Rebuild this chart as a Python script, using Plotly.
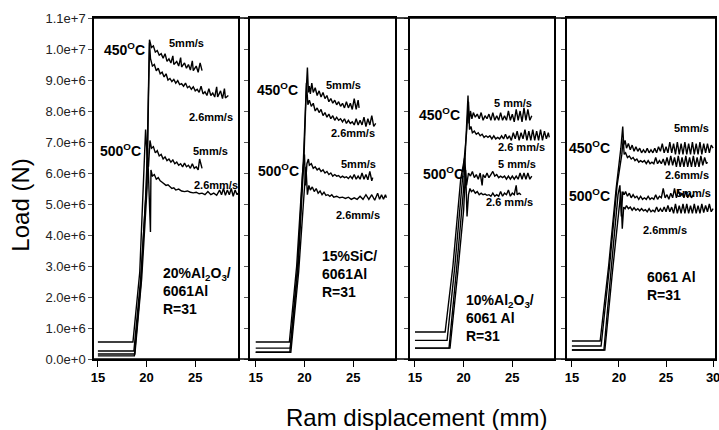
import plotly.graph_objects as go

# ---------------- data: (ram displacement mm, load MN) ----------------
# Panel 1: 20%Al2O3/6061Al
p1_450_5 = [(15,0.26),(18.7,0.26),(19.4,2.6),(20.0,5.6),(20.15,8.0),(20.3,10.3),(20.5,10.05),(20.7,10.1),(20.9,9.9),(21.1,9.95),(21.3,9.8),(21.5,9.85),(21.7,9.7),(21.9,9.85),(22.1,9.6),(22.3,9.68),(22.5,9.55),(22.7,9.78),(22.8,9.5),(23.1,9.6),(23.3,9.45),(23.5,9.72),(23.6,9.42),(23.9,9.55),(24.1,9.38),(24.3,9.5),(24.5,9.32),(24.7,9.62),(24.8,9.3),(25.1,9.45),(25.3,9.25),(25.5,9.55),(25.7,9.3)]
p1_450_26 = [(15,0.16),(18.8,0.16),(19.5,2.6),(20.05,5.5),(20.2,8.5),(20.3,10.2),(20.4,9.7),(20.6,9.45),(20.8,9.5),(21.0,9.3),(21.2,9.38),(21.4,9.2),(21.6,9.25),(21.8,9.1),(22.0,9.2),(22.2,9.0),(22.4,9.05),(22.6,8.95),(22.8,9.02),(23.0,8.9),(23.2,8.98),(23.4,8.85),(23.6,8.88),(23.8,8.8),(24.0,8.9),(24.2,8.75),(24.4,8.8),(24.6,8.7),(24.8,8.78),(25.0,8.65),(25.2,8.7),(25.4,8.6),(25.6,8.8),(25.8,8.55),(26.0,8.62),(26.2,8.5),(26.4,8.72),(26.6,8.5),(26.8,8.58),(27.0,8.45),(27.2,8.78),(27.3,8.45),(27.6,8.65),(27.8,8.4),(28.0,8.72),(28.1,8.42),(28.4,8.5)]
p1_500_5 = [(15,0.55),(18.6,0.55),(19.3,2.8),(19.75,6.0),(19.9,7.4),(20.05,6.6),(20.2,6.2),(20.35,7.05),(20.5,6.8),(20.7,6.85),(20.9,6.65),(21.1,6.72),(21.3,6.55),(21.5,6.6),(21.7,6.45),(21.9,6.52),(22.1,6.4),(22.3,6.45),(22.5,6.35),(22.7,6.42),(22.9,6.3),(23.1,6.35),(23.3,6.25),(23.5,6.3),(23.7,6.2),(23.9,6.32),(24.1,6.2),(24.3,6.25),(24.5,6.15),(24.7,6.3),(24.9,6.15),(25.1,6.2),(25.3,6.1),(25.45,6.45),(25.7,6.15)]
p1_500_26 = [(15,0.1),(18.75,0.1),(19.4,2.4),(19.9,5.2),(20.1,6.8),(20.25,5.0),(20.4,4.1),(20.45,6.1),(20.6,5.9),(20.8,5.95),(21.0,5.8),(21.2,5.85),(21.4,5.75),(21.6,5.7),(21.8,5.65),(22.0,5.6),(22.2,5.62),(22.4,5.55),(22.6,5.5),(22.8,5.52),(23.0,5.45),(23.3,5.48),(23.6,5.42),(23.9,5.4),(24.2,5.42),(24.5,5.38),(24.8,5.36),(25.1,5.38),(25.4,5.33),(25.7,5.35),(26.0,5.3),(26.3,5.4),(26.6,5.3),(26.9,5.35),(27.2,5.28),(27.5,5.45),(27.7,5.3),(27.9,5.5),(28.1,5.28),(28.3,5.45),(28.5,5.3),(28.7,5.5),(28.9,5.25),(29.1,5.45),(29.3,5.3),(29.4,5.35)]

# Panel 2: 15%SiC/6061Al
p2_450_5 = [(15,0.22),(18.5,0.22),(19.3,3.0),(19.9,6.5),(20.15,8.5),(20.3,9.4),(20.4,8.6),(20.5,8.8),(20.6,8.55),(20.75,8.9),(20.9,8.6),(21.1,8.75),(21.3,8.5),(21.5,8.65),(21.7,8.45),(21.9,8.6),(22.1,8.4),(22.3,8.5),(22.5,8.3),(22.7,8.4),(22.9,8.25),(23.1,8.35),(23.3,8.2),(23.5,8.3),(23.7,8.15),(23.9,8.25),(24.1,8.1),(24.3,8.3),(24.5,8.1),(24.7,8.25),(24.9,8.05),(25.1,8.4),(25.3,8.05),(25.5,8.35),(25.6,8.1)]
p2_450_26 = [(15,0.35),(18.55,0.35),(19.35,3.0),(19.95,6.5),(20.2,8.9),(20.35,8.2),(20.5,8.35),(20.7,8.15),(20.9,8.25),(21.1,8.0),(21.3,8.1),(21.5,7.95),(21.7,8.05),(21.9,7.85),(22.1,7.95),(22.3,7.8),(22.5,7.9),(22.7,7.75),(22.9,7.85),(23.1,7.7),(23.3,7.8),(23.5,7.7),(23.7,7.75),(23.9,7.65),(24.1,7.75),(24.3,7.6),(24.5,7.7),(24.7,7.6),(24.9,7.65),(25.1,7.55),(25.3,7.75),(25.5,7.55),(25.7,7.7),(25.9,7.55),(26.1,7.8),(26.3,7.5),(26.5,7.75),(26.7,7.55),(26.9,7.85),(27.1,7.5),(27.3,7.6)]
p2_500_5 = [(15,0.55),(18.45,0.55),(19.2,3.0),(19.8,6.0),(20.0,6.6),(20.1,5.6),(20.25,6.3),(20.4,6.45),(20.5,6.25),(20.7,6.3),(20.9,6.15),(21.1,6.2),(21.3,6.1),(21.5,6.15),(21.7,6.05),(21.9,6.1),(22.1,6.0),(22.3,6.05),(22.5,5.95),(22.7,6.0),(22.9,5.9),(23.1,5.95),(23.3,5.9),(23.5,5.92),(23.7,5.85),(23.9,5.9),(24.1,5.85),(24.3,5.88),(24.5,5.82),(24.7,5.9),(24.9,5.82),(25.1,5.95),(25.3,5.8),(25.5,5.9),(25.7,5.8),(25.9,6.0),(26.1,5.8),(26.3,5.95),(26.5,5.78),(26.7,6.05),(26.9,5.75),(27.0,5.85)]
p2_500_26 = [(15,0.22),(18.6,0.22),(19.4,2.8),(19.95,5.5),(20.15,6.2),(20.3,5.3),(20.45,5.6),(20.6,5.45),(20.8,5.55),(21.0,5.4),(21.2,5.5),(21.4,5.35),(21.6,5.42),(21.8,5.3),(22.0,5.38),(22.2,5.28),(22.4,5.3),(22.6,5.25),(22.8,5.3),(23.0,5.22),(23.3,5.25),(23.6,5.2),(23.9,5.22),(24.2,5.18),(24.5,5.22),(24.8,5.15),(25.1,5.2),(25.4,5.15),(25.7,5.25),(26.0,5.15),(26.3,5.3),(26.6,5.15),(26.9,5.3),(27.2,5.12),(27.5,5.35),(27.7,5.15),(27.9,5.3),(28.1,5.15),(28.3,5.3),(28.4,5.2)]

# Panel 3: 10%Al2O3/6061 Al
p3_450_5 = [(15,0.35),(18.5,0.35),(19.3,3.0),(20.0,5.5),(20.3,7.5),(20.45,8.5),(20.55,7.6),(20.7,8.0),(20.85,7.75),(21.0,7.95),(21.2,7.8),(21.4,7.9),(21.6,7.75),(21.8,7.95),(22.0,7.7),(22.2,7.85),(22.4,7.75),(22.6,7.9),(22.8,7.7),(23.0,7.95),(23.2,7.7),(23.4,7.85),(23.6,7.7),(23.8,7.95),(24.0,7.7),(24.2,7.85),(24.4,7.7),(24.6,8.0),(24.8,7.7),(25.0,7.9),(25.2,7.65),(25.4,8.05),(25.6,7.7),(25.8,8.0),(26.0,7.65),(26.2,8.1),(26.4,7.7),(26.6,8.05),(26.8,7.7),(27.0,7.85)]
p3_450_26 = [(15,0.6),(18.3,0.6),(19.1,3.0),(19.9,5.8),(20.3,7.3),(20.5,8.3),(20.6,7.4),(20.75,7.5),(20.9,7.3),(21.1,7.35),(21.3,7.25),(21.5,7.3),(21.7,7.2),(21.9,7.25),(22.1,7.15),(22.3,7.2),(22.5,7.15),(22.7,7.2),(22.9,7.1),(23.1,7.2),(23.3,7.1),(23.5,7.15),(23.7,7.1),(23.9,7.2),(24.1,7.1),(24.3,7.25),(24.5,7.1),(24.7,7.2),(24.9,7.05),(25.1,7.3),(25.3,7.1),(25.5,7.35),(25.7,7.05),(25.9,7.3),(26.1,7.1),(26.3,7.4),(26.5,7.05),(26.7,7.35),(26.9,7.05),(27.1,7.4),(27.3,7.05),(27.5,7.35),(27.7,7.05),(27.9,7.4),(28.1,7.05),(28.3,7.35),(28.5,7.1),(28.7,7.3),(28.8,7.15)]
p3_500_5 = [(15,0.87),(18.1,0.87),(18.9,3.0),(19.7,5.8),(20.1,6.5),(20.3,5.6),(20.5,6.0),(20.7,5.9),(20.9,6.05),(21.1,5.85),(21.3,5.95),(21.5,5.8),(21.7,6.0),(21.9,5.6),(22.0,5.95),(22.2,5.85),(22.4,6.0),(22.6,5.85),(22.8,5.95),(23.0,6.05),(23.2,5.9),(23.4,5.95),(23.6,5.85),(23.8,5.9),(24.0,5.85),(24.2,5.9),(24.4,5.8),(24.6,5.9),(24.8,5.8),(25.0,5.9),(25.2,5.8),(25.4,5.9),(25.6,5.8),(25.8,6.0),(26.0,5.8),(26.2,6.0),(26.4,5.8),(26.6,6.0),(26.8,5.8),(27.0,5.9)]
p3_500_26 = [(15,0.35),(18.6,0.35),(19.4,2.8),(20.0,4.8),(20.2,6.1),(20.35,4.6),(20.5,5.3),(20.65,5.5),(20.8,5.4),(21.0,5.45),(21.2,5.35),(21.4,5.4),(21.6,5.3),(21.8,5.35),(22.0,5.3),(22.2,5.32),(22.4,5.28),(22.6,5.3),(22.8,5.25),(23.0,5.35),(23.2,5.25),(23.4,5.3),(23.6,5.25),(23.8,5.4),(24.0,5.25),(24.2,5.35),(24.4,5.3),(24.6,5.45),(24.8,5.25),(25.0,5.35),(25.2,5.3),(25.4,5.6),(25.5,5.3),(25.7,5.35),(25.9,5.3)]

# Panel 4: 6061 Al
p4_450_5 = [(15,0.58),(18.0,0.58),(18.9,3.0),(19.7,5.5),(20.2,6.8),(20.4,7.5),(20.5,6.9),(20.65,7.05),(20.8,6.8),(21.0,6.95),(21.2,6.75),(21.4,6.9),(21.6,6.7),(21.8,6.85),(22.0,6.7),(22.2,6.8),(22.4,6.65),(22.6,6.75),(22.8,6.65),(23.0,6.8),(23.2,6.65),(23.4,6.75),(23.6,6.65),(23.8,6.8),(24.0,6.65),(24.2,6.85),(24.4,6.7),(24.6,6.95),(24.8,6.65),(25.0,6.85),(25.2,6.65),(25.4,7.0),(25.6,6.65),(25.8,6.95),(26.0,6.6),(26.2,7.0),(26.4,6.6),(26.6,6.95),(26.8,6.6),(27.0,7.0),(27.2,6.6),(27.4,6.95),(27.6,6.6),(27.8,7.0),(28.0,6.6),(28.2,6.95),(28.4,6.6),(28.6,7.0),(28.8,6.6),(29.0,6.95),(29.2,6.65),(29.4,6.95),(29.6,6.65),(29.8,6.9),(30.0,6.8)]
p4_450_26 = [(15,0.42),(18.1,0.42),(19.0,3.0),(19.8,5.6),(20.3,6.6),(20.45,7.1),(20.55,6.6),(20.7,6.65),(20.9,6.5),(21.1,6.55),(21.3,6.45),(21.5,6.5),(21.7,6.4),(21.9,6.45),(22.1,6.35),(22.3,6.4),(22.5,6.35),(22.7,6.4),(22.9,6.3),(23.1,6.4),(23.3,6.3),(23.5,6.35),(23.7,6.3),(23.9,6.5),(24.1,6.3),(24.3,6.4),(24.5,6.3),(24.7,6.45),(24.9,6.25),(25.1,6.5),(25.3,6.25),(25.5,6.55),(25.7,6.25),(25.9,6.5),(26.1,6.2),(26.3,6.55),(26.5,6.2),(26.7,6.5),(26.9,6.2),(27.1,6.55),(27.3,6.2),(27.5,6.5),(27.7,6.2),(27.9,6.55),(28.1,6.2),(28.3,6.5),(28.5,6.2),(28.7,6.55),(28.9,6.25),(29.1,6.5),(29.3,6.3),(29.4,6.35)]
p4_500_5 = [(15,0.29),(18.4,0.29),(19.2,3.0),(19.9,5.3),(20.1,5.6),(20.25,4.6),(20.4,5.4),(20.55,5.3),(20.7,5.4),(20.9,5.25),(21.1,5.35),(21.3,5.2),(21.5,5.3),(21.7,5.2),(21.9,5.25),(22.1,5.15),(22.3,5.25),(22.5,5.15),(22.7,5.2),(22.9,5.15),(23.1,5.25),(23.3,5.15),(23.5,5.2),(23.7,5.15),(23.9,5.3),(24.1,5.15),(24.3,5.25),(24.5,5.2),(24.7,5.5),(24.9,5.2),(25.1,5.3),(25.3,5.15),(25.5,5.35),(25.7,5.2),(25.9,5.5),(26.1,5.2),(26.3,5.45),(26.5,5.25),(26.7,5.35),(26.9,5.2),(27.1,5.4),(27.3,5.2),(27.5,5.35),(27.7,5.2),(27.9,5.3)]
p4_500_26 = [(15,0.29),(18.5,0.29),(19.3,2.8),(20.0,4.8),(20.2,5.4),(20.35,4.2),(20.5,4.9),(20.65,4.85),(20.8,4.95),(21.0,4.85),(21.2,4.9),(21.4,4.8),(21.6,4.88),(21.8,4.8),(22.0,4.85),(22.2,4.78),(22.4,4.85),(22.6,4.78),(22.8,4.82),(23.0,4.75),(23.2,4.85),(23.4,4.75),(23.6,4.8),(23.8,4.75),(24.0,4.9),(24.2,4.75),(24.4,4.85),(24.6,4.75),(24.8,4.9),(25.0,4.75),(25.2,4.95),(25.4,4.75),(25.6,4.9),(25.8,4.7),(26.0,5.0),(26.2,4.7),(26.4,4.95),(26.6,4.7),(26.8,5.0),(27.0,4.7),(27.2,5.0),(27.4,4.7),(27.6,4.95),(27.8,4.7),(28.0,5.0),(28.2,4.7),(28.4,4.95),(28.6,4.7),(28.8,5.0),(29.0,4.72),(29.2,4.95),(29.4,4.75),(29.6,5.0),(29.8,4.75),(30.0,4.85)]

panel_curves = [
    [p1_450_5, p1_450_26, p1_500_5, p1_500_26],
    [p2_450_5, p2_450_26, p2_500_5, p2_500_26],
    [p3_450_5, p3_450_26, p3_500_5, p3_500_26],
    [p4_450_5, p4_450_26, p4_500_5, p4_500_26],
]
material_labels = [
    "20%Al<sub>2</sub>O<sub>3</sub>/<br>6061Al<br>R=31",
    "15%SiC/<br>6061Al<br>R=31",
    "10%Al<sub>2</sub>O<sub>3</sub>/<br>6061 Al<br>R=31",
    "6061 Al<br>R=31",
]
x_tick_vals = [[15, 20, 25], [15, 20, 25], [15, 20, 25], [15, 20, 25, 30]]
y_tick_vals = [0, 1e6, 2e6, 3e6, 4e6, 5e6, 6e6, 7e6, 8e6, 9e6, 1e7, 1.1e7]

# ---------------- layout settings ----------------
W, H = 719, 430
ML, MR, MT, MB = 94, 4, 18, 71
domains = [[0.0, 0.232], [0.251, 0.485], [0.509, 0.741], [0.762, 1.0]]
xranges = [[14.6, 29.4], [14.4, 29.3], [14.5, 29.3], [14.5, 30.2]]
FONT = "Liberation Sans, Arial, sans-serif"

fig = go.Figure()
for i, curves in enumerate(panel_curves):
    xa = "x" if i == 0 else f"x{i+1}"
    ya = "y" if i == 0 else f"y{i+1}"
    for c in curves:
        fig.add_trace(go.Scatter(
            x=[p[0] for p in c], y=[p[1] * 1e6 for p in c],
            mode="lines", line=dict(color="black", width=1.4),
            xaxis=xa, yaxis=ya, showlegend=False, hoverinfo="skip"))

for i in range(4):
    xk = "xaxis" if i == 0 else f"xaxis{i+1}"
    yk = "yaxis" if i == 0 else f"yaxis{i+1}"
    fig.layout[xk] = dict(
        domain=domains[i], range=xranges[i], anchor="y" if i == 0 else f"y{i+1}",
        showline=True, linecolor="black", linewidth=1.5, mirror=True,
        ticks="outside", ticklen=6, tickwidth=1.3, tickcolor="black",
        tickvals=x_tick_vals[i], showgrid=False, zeroline=False, automargin=False,
        ticklabeloverflow="allow",
        tickfont=dict(family=FONT, size=13, color="black", weight="bold"))
    fig.layout[yk] = dict(
        range=[0, 1.1e7], anchor="x" if i == 0 else f"x{i+1}",
        showline=True, linecolor="black", linewidth=1.5, mirror=True,
        ticks="outside", ticklen=4, tickwidth=1, tickcolor="#555",
        tickvals=y_tick_vals, tickformat=".1e", showticklabels=(i == 0),
        showgrid=False, zeroline=False, automargin=False,
        tickfont=dict(family=FONT, size=13, color="#222"))

# ---------------- annotations ----------------
def lab(i, x, y, text, size=12, xanchor="center"):
    xr = "x" if i == 0 else f"x{i+1}"
    yr = "y" if i == 0 else f"y{i+1}"
    fig.add_annotation(x=x, y=y * 1e6, xref=xr, yref=yr, text=text, showarrow=False,
                       xanchor=xanchor, align="left",
                       font=dict(family=FONT, size=size, color="black", weight="bold"))

deg = "<sup>O</sup>C"
# panel 1
lab(0, 17.7, 10.0, "450" + deg, 14)
lab(0, 24.1, 10.2, "5mm/s", 11)
lab(0, 26.6, 7.8, "2.6mm/s", 11)
lab(0, 17.3, 6.75, "500" + deg, 14)
lab(0, 26.6, 6.7, "5mm/s", 11)
lab(0, 27.1, 5.6, "2.6mm/s", 11)
# panel 2
lab(1, 17.2, 8.7, "450" + deg, 14)
lab(1, 24.0, 8.85, "5mm/s", 11)
lab(1, 25.0, 7.3, "2.6mm/s", 11)
lab(1, 17.3, 6.1, "500" + deg, 14)
lab(1, 25.5, 6.3, "5mm/s", 11)
lab(1, 25.5, 4.65, "2.6mm/s", 11)
# panel 3
lab(2, 17.5, 7.9, "450" + deg, 14)
lab(2, 25.1, 8.25, "5 mm/s", 11)
lab(2, 25.9, 6.85, "2.6 mm/s", 11)
lab(2, 17.9, 6.0, "500" + deg, 14)
lab(2, 25.5, 6.3, "5 mm/s", 11)
lab(2, 24.7, 5.05, "2.6 mm/s", 11)
# panel 4
lab(3, 16.9, 6.85, "450" + deg, 14)
lab(3, 27.7, 7.45, "5mm/s", 11)
lab(3, 27.2, 5.95, "2.6mm/s", 11)
lab(3, 16.9, 5.3, "500" + deg, 14)
lab(3, 27.9, 5.35, "5mm/s", 11)
lab(3, 24.9, 4.15, "2.6mm/s", 11)
# material labels
mat_pos = [(21.5, 2.2), (21.6, 2.75), (20.0, 1.32), (22.8, 2.35)]
for i, (mx, my) in enumerate(mat_pos):
    lab(i, mx, my, material_labels[i], 14, xanchor="left")

# axis titles
fig.add_annotation(x=-0.119, y=0.45, xref="paper", yref="paper", text="Load (N)",
                   textangle=-90, showarrow=False, xanchor="center", yanchor="middle",
                   font=dict(family=FONT, size=24, color="black"))
fig.add_annotation(x=0.52, y=-0.173, xref="paper", yref="paper",
                   text="Ram displacement (mm)", showarrow=False, yanchor="middle",
                   font=dict(family=FONT, size=24, color="black"))

# continuous top / bottom frame lines across panel gaps
fig.add_shape(type="line", xref="paper", yref="paper", x0=0, x1=1, y0=1, y1=1,
              line=dict(color="black", width=1.5))
fig.add_shape(type="line", xref="paper", yref="paper", x0=0, x1=1, y0=0, y1=0,
              line=dict(color="black", width=1.5))

fig.update_layout(width=W, height=H, margin=dict(l=ML, r=MR, t=MT, b=MB, autoexpand=False),
                  plot_bgcolor="white", paper_bgcolor="white",
                  font=dict(family=FONT))
# place the figure at the window's top-left corner (no default page margin)
fig.write_html("out.html", config={"displayModeBar": False},
               post_script="document.body.style.margin='0';document.body.style.overflow='hidden';")
